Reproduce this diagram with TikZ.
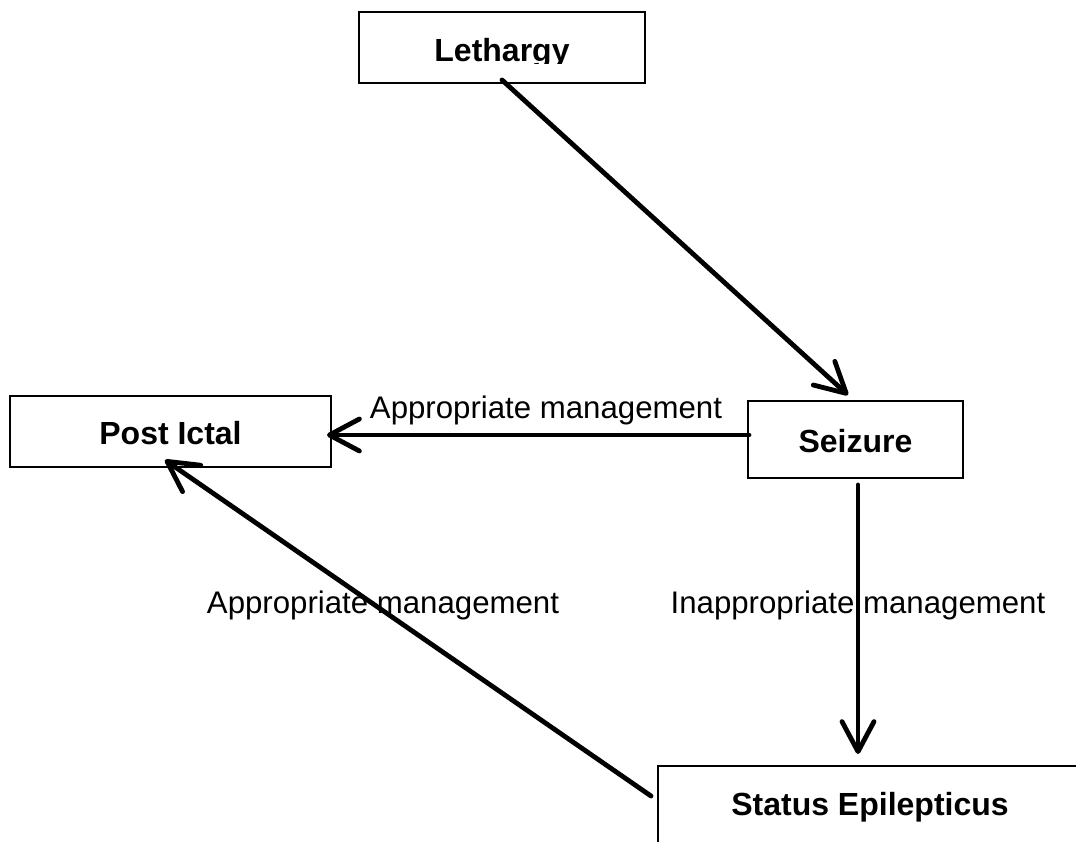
\documentclass[tikz,border=0pt]{standalone}
\usepackage{fontspec}
\setmainfont{Liberation Sans}
\usetikzlibrary{arrows.meta}
\begin{document}
\begin{tikzpicture}[x=1pt,y=-1pt,
  box/.style={draw=black, line width=1.9pt, rectangle, inner sep=0pt},
  boxtext/.style={anchor=base, inner sep=0pt, font=\fontsize{32}{36}\selectfont\bfseries},
  lbl/.style={anchor=base, inner sep=0pt, font=\fontsize{31.2}{36}\selectfont},
  arr/.style={line width=4.8pt, line cap=round, line join=round,
    -{Straight Barb[length=30pt,width=32pt,round]}}]
\clip (0,0) rectangle (1076,842);
\fill[white] (0,0) rectangle (1076,842);
% boxes
\node[box, minimum width=286pt, minimum height=71pt] (leth) at (502,47.5) {};
\node[box, minimum width=215pt, minimum height=77pt] (seiz) at (855.5,439.5) {};
\node[box, minimum width=321pt, minimum height=71pt] (post) at (170.5,431.5) {};
\node[box, minimum width=460pt, minimum height=120pt] (stat) at (888,826) {};
% box texts
\begin{scope}
\clip (359,12) rectangle (645,63.5);
\node[boxtext] (lethT) at (502,62) {Lethargy};
\end{scope}
\node[boxtext] (seizT) at (855.5,452) {Seizure};
\node[boxtext] (postT) at (170.5,444) {Post Ictal};
\node[boxtext] (statT) at (870,815) {Status Epilepticus};
% connector end points
\coordinate (a1) at (502,80);
\coordinate (a2) at (848,395);
\coordinate (b1) at (749,435);
\coordinate (b2) at (327,435);
\coordinate (c1) at (858,485);
\coordinate (c2) at (858,754);
\coordinate (d1) at (651,796);
\coordinate (d2) at (165,460);
% connectors
\draw[arr] (a1) -- (a2);
\draw[arr] (b1) -- (b2);
\draw[arr] (c1) -- (c2);
\draw[arr] (d1) -- (d2);
% labels
\node[lbl] (l1) at (546,418) {Appropriate management};
\node[lbl] (l2) at (383,613) {Appropriate management};
\node[lbl] (l3) at (858,613) {Inappropriate management};
\end{tikzpicture}
\end{document}
